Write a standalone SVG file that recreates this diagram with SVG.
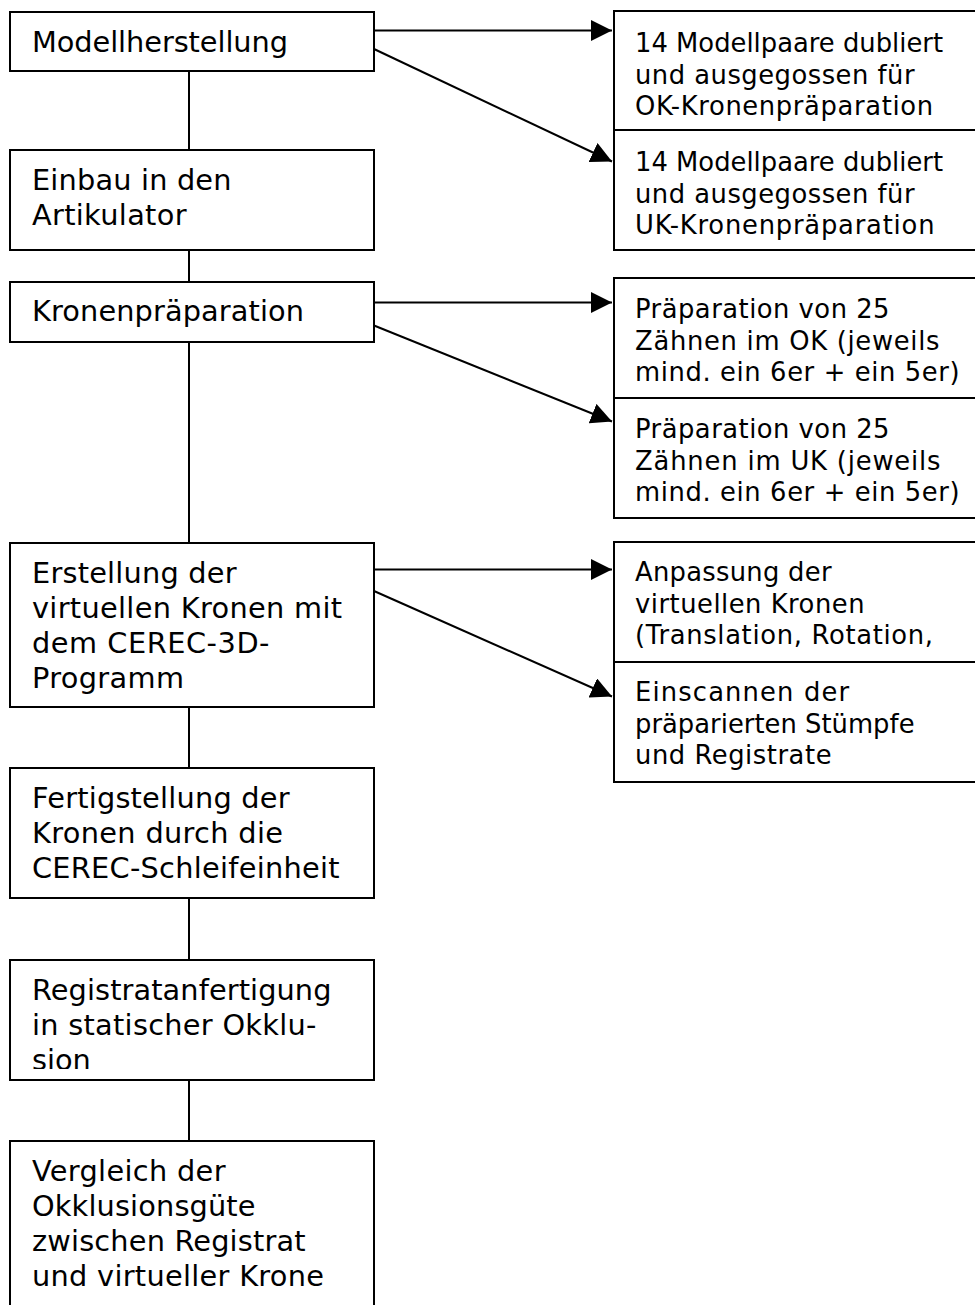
<svg xmlns="http://www.w3.org/2000/svg" width="975" height="1305" viewBox="0 0 975 1305">
<style>
.box{fill:#fff;stroke:#000;stroke-width:2}
.t{font-family:"DejaVu Sans","Verdana",sans-serif;font-size:28.8px;fill:#000}
.r{font-family:"DejaVu Sans","Verdana",sans-serif;font-size:25.8px;fill:#000}
.c{stroke:#000;stroke-width:2;fill:none}
.a{stroke:#000;stroke-width:2;fill:none;marker-end:url(#ah)}
</style>
<defs>
<marker id="ah" markerUnits="userSpaceOnUse" markerWidth="21" markerHeight="21" viewBox="0 0 21 21" refX="21" refY="10.5" orient="auto">
<path d="M0,0 L21,10.5 L0,21 z" fill="#000"/>
</marker>
<clipPath id="clip6"><rect x="0" y="960" width="400" height="109"/></clipPath>
</defs>
<rect width="975" height="1305" fill="#fff"/>
<g id="connectors">
<line class="c" x1="189" y1="71" x2="189" y2="150"/>
<line class="c" x1="189" y1="250" x2="189" y2="282"/>
<line class="c" x1="189" y1="342" x2="189" y2="543"/>
<line class="c" x1="189" y1="707" x2="189" y2="768"/>
<line class="c" x1="189" y1="898" x2="189" y2="960"/>
<line class="c" x1="189" y1="1080" x2="189" y2="1141"/>
<line class="a" x1="374" y1="30.5" x2="612" y2="30.5"/>
<line class="a" x1="374" y1="49" x2="612" y2="161.5"/>
<line class="a" x1="374" y1="302.5" x2="612" y2="302.5"/>
<line class="a" x1="374" y1="325.5" x2="612" y2="421.5"/>
<line class="a" x1="374" y1="569.5" x2="612" y2="569.5"/>
<line class="a" x1="374" y1="591" x2="612" y2="696.5"/>
</g>
<g id="n1"><rect class="box" x="10" y="12" width="364" height="59"/><text class="t" x="32" y="52" textLength="256">Modellherstellung</text></g>
<g id="n2"><rect class="box" x="10" y="150" width="364" height="100"/><text class="t" x="32" y="190" textLength="199.5">Einbau in den</text><text class="t" x="32" y="225" textLength="154.5">Artikulator</text></g>
<g id="n3"><rect class="box" x="10" y="282" width="364" height="60"/><text class="t" x="32" y="321" textLength="272">Kronenpräparation</text></g>
<g id="n4"><rect class="box" x="10" y="543" width="364" height="164"/><text class="t" x="32" y="583" textLength="204.5">Erstellung der</text><text class="t" x="32" y="618" textLength="310">virtuellen Kronen mit</text><text class="t" x="32" y="653" textLength="237.5">dem CEREC-3D-</text><text class="t" x="32" y="688" textLength="152">Programm</text></g>
<g id="n5"><rect class="box" x="10" y="768" width="364" height="130"/><text class="t" x="32" y="808" textLength="257.5">Fertigstellung der</text><text class="t" x="32" y="843" textLength="251">Kronen durch die</text><text class="t" x="32" y="878" textLength="307.5">CEREC-Schleifeinheit</text></g>
<g id="n6"><rect class="box" x="10" y="960" width="364" height="120"/><g clip-path="url(#clip6)"><text class="t" x="32" y="1000" textLength="299.5">Registratanfertigung</text><text class="t" x="32" y="1035" textLength="284.5">in statischer Okklu-</text><text class="t" x="32" y="1070">sion</text></g></g>
<g id="n7"><rect class="box" x="10" y="1141" width="364" height="180"/><text class="t" x="32" y="1181" textLength="193.5">Vergleich der</text><text class="t" x="32" y="1216" textLength="223.5">Okklusionsgüte</text><text class="t" x="32" y="1251" textLength="273.5">zwischen Registrat</text><text class="t" x="32" y="1286" textLength="292">und virtueller Krone</text></g>
<g id="r1a"><rect class="box" x="614" y="11" width="400" height="119"/><text class="r" x="635" y="52" textLength="308">14 Modellpaare dubliert</text><text class="r" x="635" y="83.5" textLength="279.5">und ausgegossen für</text><text class="r" x="635" y="115" textLength="298">OK-Kronenpräparation</text></g>
<g id="r1b"><rect class="box" x="614" y="130" width="400" height="120"/><text class="r" x="635" y="171" textLength="308">14 Modellpaare dubliert</text><text class="r" x="635" y="202.5" textLength="279.5">und ausgegossen für</text><text class="r" x="635" y="234" textLength="299.5">UK-Kronenpräparation</text></g>
<g id="r2a"><rect class="box" x="614" y="278" width="400" height="120"/><text class="r" x="635" y="318" textLength="254.5">Präparation von 25</text><text class="r" x="635" y="349.5" textLength="304.5">Zähnen im OK (jeweils</text><text class="r" x="635" y="381" textLength="324.5">mind. ein 6er + ein 5er)</text></g>
<g id="r2b"><rect class="box" x="614" y="398" width="400" height="120"/><text class="r" x="635" y="438" textLength="254.5">Präparation von 25</text><text class="r" x="635" y="469.5" textLength="305.5">Zähnen im UK (jeweils</text><text class="r" x="635" y="501" textLength="324.5">mind. ein 6er + ein 5er)</text></g>
<g id="r3a"><rect class="box" x="614" y="542" width="400" height="120"/><text class="r" x="635" y="581" textLength="196.5">Anpassung der</text><text class="r" x="635" y="612.5" textLength="229.5">virtuellen Kronen</text><text class="r" x="635" y="644" textLength="298">(Translation, Rotation,</text></g>
<g id="r3b"><rect class="box" x="614" y="662" width="400" height="120"/><text class="r" x="635" y="701" textLength="214">Einscannen der</text><text class="r" x="635" y="732.5" textLength="279.5">präparierten Stümpfe</text><text class="r" x="635" y="764" textLength="196.5">und Registrate</text></g>
</svg>
